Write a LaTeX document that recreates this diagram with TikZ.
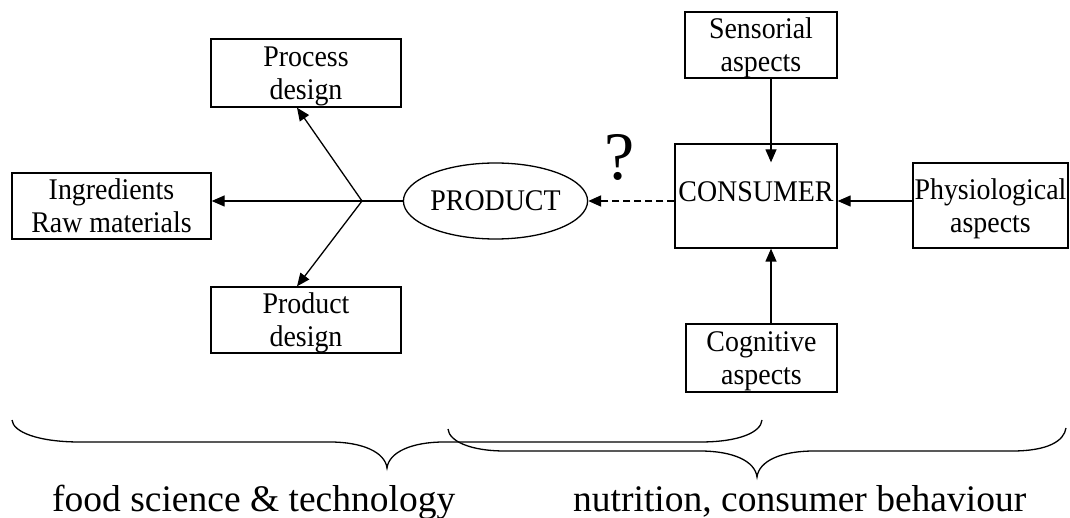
\documentclass[tikz,border=0pt]{standalone}
\usepackage{fontspec}
\setmainfont{Liberation Serif}
\newfontfamily\boxfont{Liberation Serif}[FakeStretch=0.93]
\usetikzlibrary{arrows.meta,shapes.geometric,calc}

\tikzset{
  box/.style={draw, line width=1.3pt, inner sep=0pt, align=center, text depth=0pt,
    font=\boxfont\fontsize{30}{33}\selectfont},
  oval/.style={draw, ellipse, line width=1.3pt, inner sep=0pt,
    font=\boxfont\fontsize{30}{33}\selectfont},
  arr/.style={line width=1.3pt, -{Triangle[length=13pt,width=11pt]}},
  link/.style={line width=1.3pt},
  brace/.style={line width=1.3pt},
  field/.style={font=\fontsize{37.5}{40}\selectfont, inner sep=0pt, anchor=base west},
  query/.style={font=\fontsize{68}{70}\selectfont, inner sep=0pt}
}

\begin{document}
\begin{tikzpicture}[x=1pt, y=-1pt]
\useasboundingbox (0,0) rectangle (1070,518);

% product side
\node[box, minimum width=190pt, minimum height=68pt] (proc) at (306,73) {Process\\design};
\node[box, minimum width=199pt, minimum height=66pt] (ingr) at (111.5,206) {Ingredients\\Raw materials};
\node[box, minimum width=190pt, minimum height=66pt] (prodd) at (306,320) {Product\\design};
\node[oval, minimum width=153pt, minimum height=76pt] (prod) at (495.5,201) {PRODUCT};

% consumer side
\node[box, text depth=9pt, minimum width=162pt, minimum height=104pt] (cons) at (756,196) {CONSUMER};
\node[box, minimum width=152pt, minimum height=66pt] (sens) at (761,45) {Sensorial\\aspects};
\node[box, minimum width=151pt, minimum height=68pt] (cogn) at (761.5,358) {Cognitive\\aspects};
\node[box, minimum width=155pt, minimum height=85pt] (phys) at (990.5,205.5) {Physiological\\aspects};

\node[query] (q) at (620,157) {?};

% branching from the product
\coordinate (jn) at (362,201);
\draw[link] (prod.west) -- (jn);
\draw[arr] (jn) -- (jn -| ingr.east);
\draw[arr] (jn) -- ([xshift=-9pt]proc.south);
\draw[arr] (jn) -- ([xshift=-9pt]prodd.north);

% influences on the consumer
\coordinate (sx) at ([xshift=10pt]sens.south);
\draw[arr] (sx) -- ($(sx |- cons.north)+(0,19)$);
\draw[arr] (cogn.north -| sx) -- (cons.south -| sx);
\draw[arr] (phys.west |- jn) -- (cons.east |- jn);
\draw[arr, line width=2pt, dash pattern=on 7pt off 4pt] (cons.west |- jn) -- (prod.east);

% braces over the two fields
\draw[brace] (12,420) .. controls (13,432) and (38,442) .. (80,442)
  -- (330,442) .. controls (362,442) and (385,452) .. (387,468)
  .. controls (389,452) and (412,442) .. (444,442)
  -- (700,442) .. controls (740,442) and (761,432) .. (762,420);
\draw[brace] (448,429) .. controls (449,441) and (470,451) .. (505,451)
  -- (700,451) .. controls (733,451) and (755,461) .. (757,477)
  .. controls (759,461) and (781,451) .. (814,451)
  -- (1012,451) .. controls (1048,451) and (1064,441) .. (1066,428);

\node[field] (fst) at (52,511) {food science \& technology};
\node[field] (ncb) at (573,511) {nutrition, consumer behaviour};
\end{tikzpicture}
\end{document}
